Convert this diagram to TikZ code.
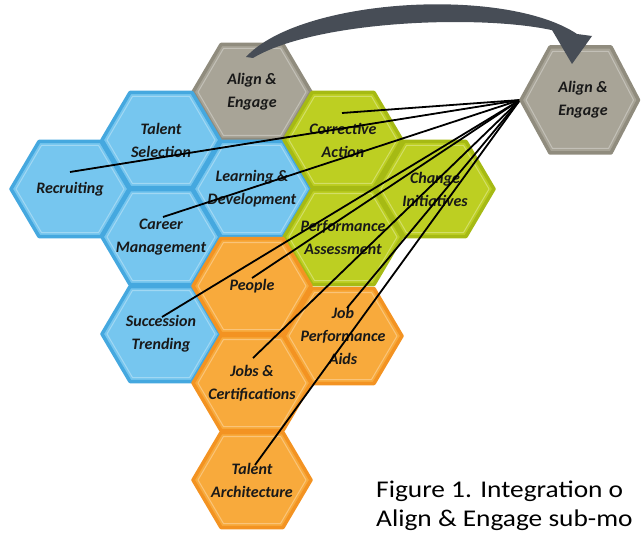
\documentclass[tikz,border=0pt]{standalone}
\usepackage{fontspec}
\setmainfont{Carlito}
\newfontfamily\captionfont[FakeStretch=1.14]{Carlito}

\definecolor{bluefill}{HTML}{76C6EF}
\definecolor{blueedge}{HTML}{45A8DF}
\definecolor{orangefill}{HTML}{F8AA3C}
\definecolor{orangeedge}{HTML}{F39322}
\definecolor{greenfill}{HTML}{BDCF22}
\definecolor{greenedge}{HTML}{A6BA14}
\definecolor{grayfill}{HTML}{A8A497}
\definecolor{grayedge}{HTML}{908C7E}
\definecolor{arrowgray}{HTML}{474D56}

% hexagon cell: name, centre, colour, label
\newcommand{\hexcell}[4]{%
  \filldraw[hexbody, fill=#3fill, draw=#3edge, shift={(#2)}]
    (-59,0) -- (-31,-47.5) -- (31,-47.5) -- (59,0) -- (31,47.5) -- (-31,47.5) -- cycle;
  \draw[bevel, draw=#3fill!55!white, shift={(#2)}]
    (-54,0) -- (-28.5,-43.5) -- (28.5,-43.5) -- (54,0) -- (28.5,43.5) -- (-28.5,43.5) -- cycle;
  \node[hexlabel] (#1) at (#2) {#4};
}

\begin{document}
\begin{tikzpicture}[x=1pt, y=-1pt,
  hexbody/.style={line width=3.5pt, line join=round},
  bevel/.style={line width=1pt, line join=round, opacity=0.7},
  hexlabel/.style={font=\fontsize{16}{23}\selectfont\bfseries\itshape,
    align=center, text=black!90, inner sep=0pt},
  spoke/.style={line width=1.8pt, black},
  caption/.style={font=\captionfont\fontsize{24}{29}\selectfont, anchor=base west, inner sep=0pt}]
  \useasboundingbox (0,0) rectangle (641,535);

  % Honeycomb
  \hexcell{align}{252,92}{gray}{Align \&\\Engage}
  \hexcell{select}{161,140}{blue}{Talent\\Selection}
  \hexcell{recruit}{70,189}{blue}{Recruiting}
  \hexcell{learn}{252,189}{blue}{Learning \&\\Development}
  \hexcell{career}{161,237}{blue}{Career\\Management}
  \hexcell{succession}{161,334}{blue}{Succession\\Trending}
  \hexcell{corrective}{343,140}{green}{Corrective\\Action}
  \hexcell{change}{435,189}{green}{Change\\Initiatives}
  \hexcell{perform}{343,237}{green}{Performance\\Assessment}
  \hexcell{people}{252,286}{orange}{People}
  \hexcell{jobaids}{343,336}{orange}{Job\\Performance\\Aids}
  \hexcell{jobs}{252,383}{orange}{Jobs \&\\Certifications}
  \hexcell{architecture}{252,480}{orange}{Talent\\Architecture}

  % Line ends inside the cells
  \coordinate (tail-corrective) at (342,113);
  \coordinate (tail-recruit) at (70,172);
  \coordinate (tail-career) at (163,217);
  \coordinate (tail-people) at (252,278);
  \coordinate (tail-succession) at (162,317);
  \coordinate (tail-jobs) at (253,358);
  \coordinate (tail-jobaids) at (347,308);
  \coordinate (tail-architecture) at (255,465);
  \coordinate (hub) at (520,100);

  \foreach \c in {corrective, recruit, career, people, succession, jobs, jobaids, architecture}
  {
    \draw[spoke] (hub) -- (tail-\c);
  }

  % Target cell
  \filldraw[hexbody, fill=grayfill, draw=grayedge, shift={(580,100)}]
    (-59,0) -- (-30,-53) -- (31,-53) -- (58.5,0) -- (31,53) -- (-30,53) -- cycle;
  \draw[bevel, draw=grayfill!55!white, shift={(580,100)}]
    (-54,0) -- (-27.5,-48.5) -- (28.5,-48.5) -- (53.5,0) -- (28.5,48.5) -- (-27.5,48.5) -- cycle;
  \node[hexlabel] (target) at (583,100) {Align \&\\Engage};

  % Curved arrow over the top
  \fill[arrowgray] (246,57) .. controls (300,-2) and (505,-14) .. (577,34)
    -- (592,36) -- (572,64) -- (552,30) -- (563,33)
    .. controls (500,14) and (320,18) .. (253,58) -- cycle;

  % Caption
  \node[caption] (caption1) at (376,497) {Figure 1. Integration o};
  \node[caption] (caption2) at (376,526) {Align \& Engage sub-mo};
\end{tikzpicture}
\end{document}
